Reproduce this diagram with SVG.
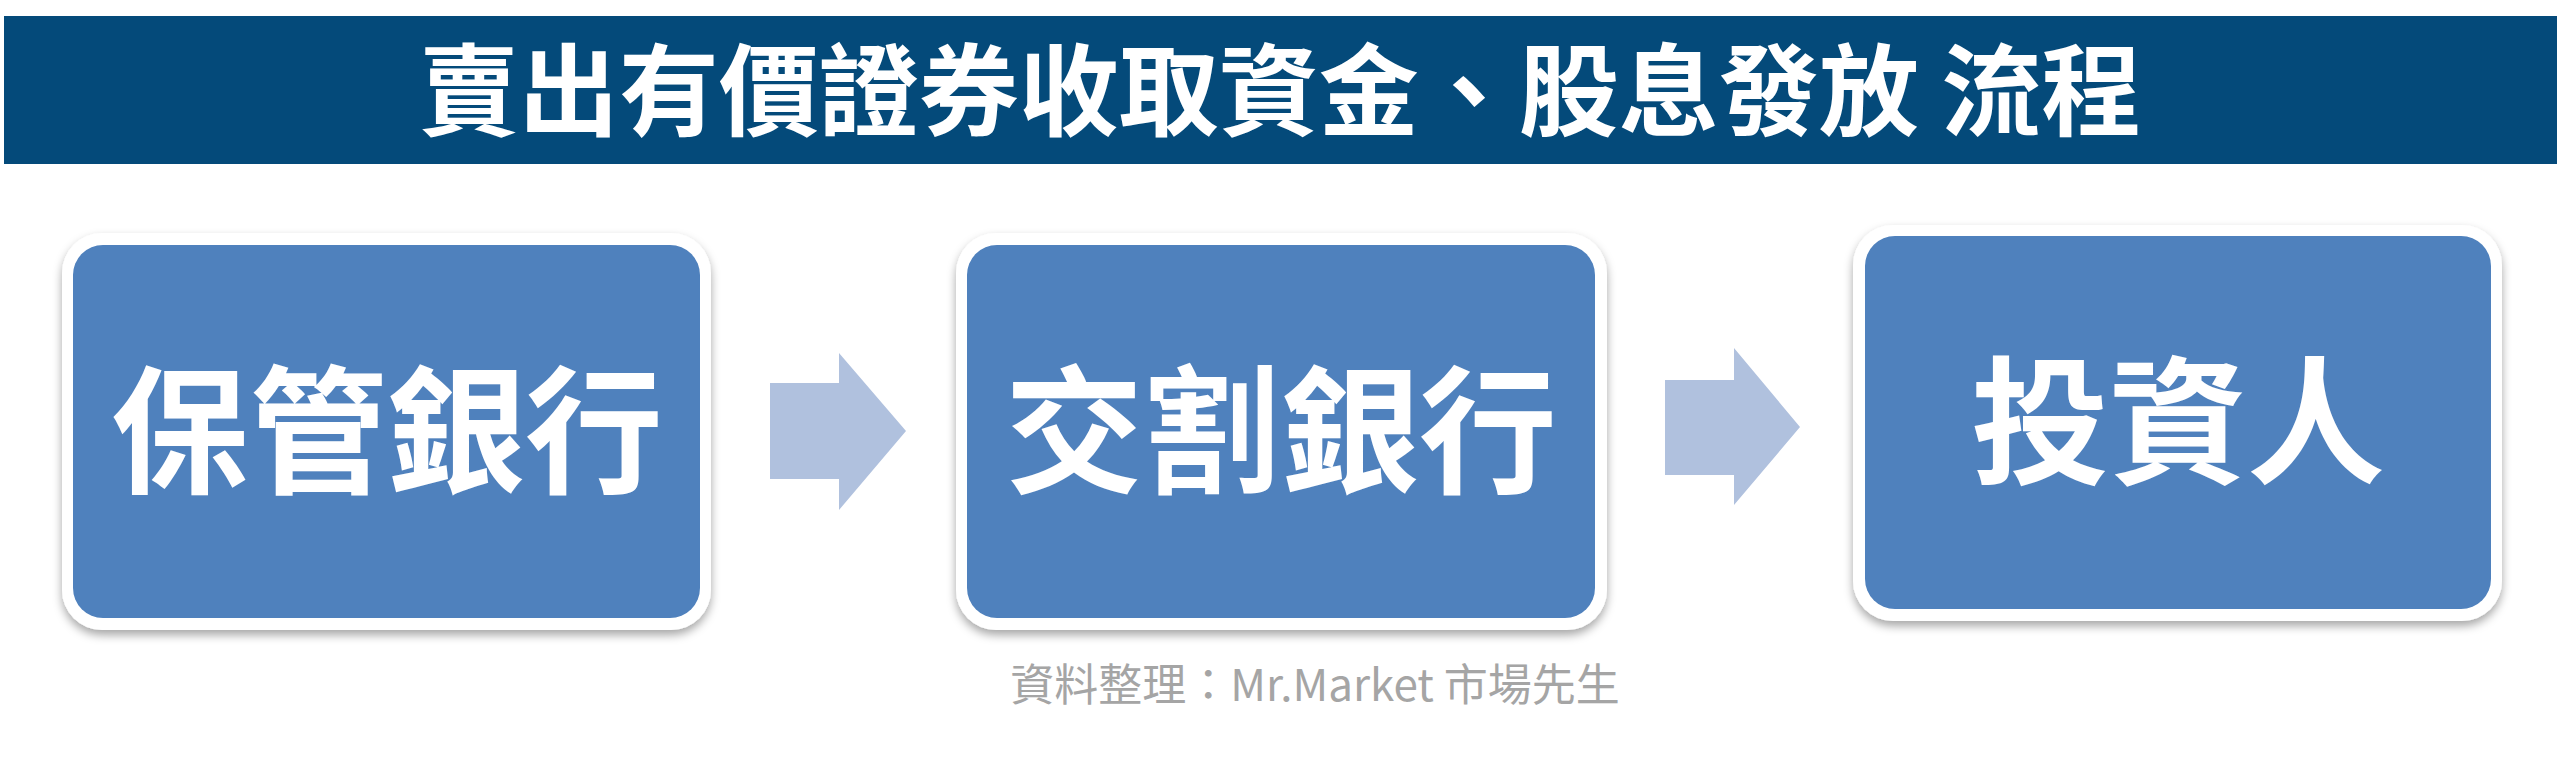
<svg xmlns="http://www.w3.org/2000/svg" width="2560" height="773" viewBox="0 0 2560 773">
  <defs>
    <filter id="shadow" x="-10%" y="-10%" width="120%" height="125%">
      <feDropShadow dx="0" dy="5" stdDeviation="5" flood-color="#000000" flood-opacity="0.35"/>
    </filter>
    <style>
      .frame { fill: #ffffff; filter: url(#shadow); }
      .card { fill: #4F81BD; }
      .label { font-family: "Noto Sans CJK TC", "Noto Sans CJK SC", sans-serif; font-weight: 700; fill: #ffffff; text-anchor: middle; font-size: 138px; }
      .arrow { fill: #B0C1DE; }
      .title { font-family: "Noto Sans CJK TC", "Noto Sans CJK SC", sans-serif; font-weight: 700; fill: #ffffff; text-anchor: middle; font-size: 100px; }
      .note { font-family: "Noto Sans CJK TC", "Noto Sans CJK SC", sans-serif; font-weight: 400; fill: #A5A5A5; text-anchor: middle; font-size: 44px; }
    </style>
  </defs>
  <rect x="0" y="0" width="2560" height="773" fill="#ffffff"/>
  <g id="title">
    <rect x="4" y="16" width="2553" height="148" fill="#044A7A"/>
    <text class="title" x="1280" y="128">賣出有價證券收取資金、股息發放 流程</text>
  </g>
  <g id="connectors">
    <polygon class="arrow" points="770,383 839,383 839,353 906,431 839,510 839,479 770,479"/>
    <polygon class="arrow" points="1665,380 1734,380 1734,348 1800,427 1734,505 1734,475 1665,475"/>
  </g>
  <g id="node-custodian">
    <rect class="frame" x="62" y="233" width="649" height="397" rx="40" ry="40"/>
    <rect class="card" x="73" y="245" width="627" height="373" rx="30" ry="30"/>
    <text class="label" x="387" y="482">保管銀行</text>
  </g>
  <g id="node-settlement">
    <rect class="frame" x="956" y="233" width="651" height="397" rx="40" ry="40"/>
    <rect class="card" x="967" y="245" width="628" height="373" rx="30" ry="30"/>
    <text class="label" x="1281" y="482">交割銀行</text>
  </g>
  <g id="node-investor">
    <rect class="frame" x="1853" y="225" width="649" height="396" rx="40" ry="40"/>
    <rect class="card" x="1865" y="236" width="626" height="373" rx="30" ry="30"/>
    <text class="label" x="2178" y="473">投資人</text>
  </g>
  <g id="source">
    <text class="note" x="1315" y="701">資料整理：Mr.Market 市場先生</text>
  </g>
</svg>
